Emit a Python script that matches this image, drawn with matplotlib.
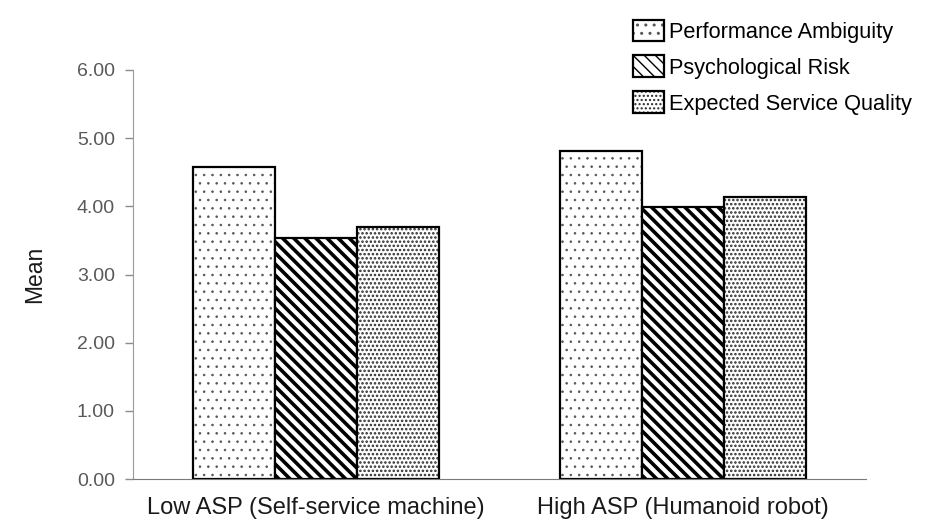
import matplotlib
matplotlib.use('Agg')
import matplotlib.pyplot as plt
from matplotlib.legend_handler import HandlerTuple
import numpy as np

groups = ['Low ASP (Self-service machine)', 'High ASP (Humanoid robot)']
series = ['Performance Ambiguity', 'Psychological Risk', 'Expected Service Quality']
perf_ambiguity = [4.58, 4.81]
psych_risk = [3.54, 3.99]
service_quality = [3.70, 4.14]
y_ticks = [0, 1, 2, 3, 4, 5, 6]

plt.rcParams['font.family'] = ['Liberation Sans', 'DejaVu Sans']

fig = plt.figure(figsize=(9.36, 5.24), dpi=100)
ax = fig.add_axes([133 / 936, 1 - 479 / 524, 733 / 936, 409 / 524])

x = np.arange(len(groups))
w = 0.224
# hatch pattern, hatch colour, hatch line width per series
styles = [('..', '#555555', 0.6),
          ('\\\\\\', 'black', 2.6),
          ('....', '#2a2a2a', 1.2)]
values = [perf_ambiguity, psych_risk, service_quality]
handles = []
for i, (vals, (h, hc, hlw)) in enumerate(zip(values, styles)):
    pos = x + (i - 1) * w
    with plt.rc_context({'hatch.linewidth': hlw}):
        fill = ax.bar(pos, vals, w, color='white', edgecolor=hc, linewidth=0, hatch=h)
        for p in fill:
            if hasattr(p, 'set_hatch_linewidth'):
                p.set_hatch_linewidth(hlw)
    edge = ax.bar(pos, vals, w, fill=False, edgecolor='black', linewidth=1.6)
    handles.append((fill[0], edge[0]))

ax.set_xlim(-0.5, 1.5)
ax.set_ylim(0, 6)
ax.set_yticks(y_ticks)
ax.set_yticklabels([f'{v:.2f}' for v in y_ticks])
ax.set_xticks(x)
ax.set_xticklabels(groups)
ax.tick_params(axis='y', colors='#8c8c8c', labelcolor='#595959', labelsize=14, length=6, width=1, pad=7)
ax.tick_params(axis='x', length=0, labelsize=17, labelcolor='#1a1a1a', pad=13)
ax.set_ylabel('Mean', fontsize=16.5, color='#1a1a1a', labelpad=22)

for s in ['top', 'right']:
    ax.spines[s].set_visible(False)
ax.spines['left'].set_color('#9a9a9a')
ax.spines['bottom'].set_color('#7a7a7a')

leg = fig.legend(handles, series, handler_map={tuple: HandlerTuple(ndivide=1)},
                 loc='upper right', bbox_to_anchor=(0.995, 1.0), frameon=False,
                 fontsize=15.7, handlelength=1.45, handleheight=1.15,
                 handletextpad=0.2, labelspacing=0.58)

fig.savefig('out.png', dpi=100)
